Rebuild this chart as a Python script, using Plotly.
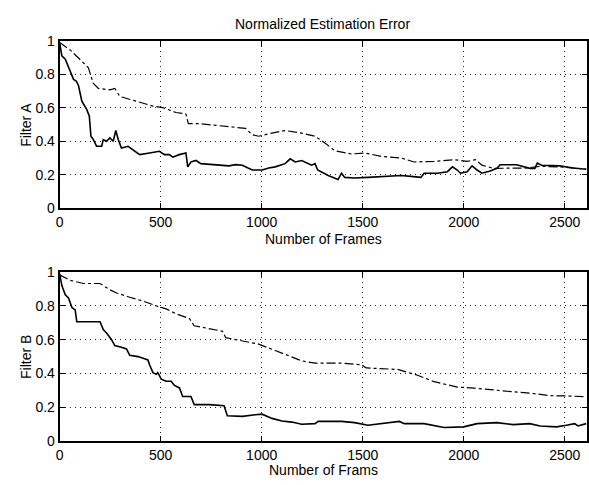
import plotly.graph_objects as go

# Filter A (top panel)
a_solid_x = [0, 11, 28, 44, 69, 82, 93, 110, 134, 147, 155, 167, 183, 208, 216, 232, 249, 265, 278, 290, 306, 339, 355, 396, 445, 494, 519, 543, 560, 592, 625, 634, 650, 675, 699, 773, 838, 871, 904, 953, 1002, 1035, 1067, 1116, 1141, 1166, 1198, 1247, 1264, 1277, 1329, 1378, 1395, 1411, 1460, 1526, 1608, 1690, 1739, 1788, 1804, 1870, 1919, 1944, 1968, 1984, 2017, 2041, 2066, 2090, 2131, 2164, 2180, 2262, 2327, 2352, 2364, 2385, 2475, 2541, 2606]
a_solid_y = [0.99, 0.91, 0.89, 0.84, 0.77, 0.76, 0.735, 0.64, 0.59, 0.55, 0.43, 0.41, 0.37, 0.37, 0.41, 0.40, 0.42, 0.40, 0.464, 0.41, 0.36, 0.37, 0.355, 0.32, 0.33, 0.34, 0.32, 0.32, 0.305, 0.32, 0.33, 0.247, 0.276, 0.285, 0.266, 0.26, 0.253, 0.26, 0.257, 0.228, 0.228, 0.24, 0.247, 0.266, 0.295, 0.276, 0.285, 0.257, 0.266, 0.228, 0.195, 0.171, 0.209, 0.184, 0.18, 0.184, 0.19, 0.195, 0.19, 0.184, 0.209, 0.209, 0.218, 0.247, 0.228, 0.209, 0.218, 0.253, 0.228, 0.209, 0.222, 0.238, 0.26, 0.26, 0.238, 0.238, 0.27, 0.257, 0.253, 0.24, 0.233]
a_dash_x = [0, 52, 101, 142, 167, 192, 249, 273, 298, 347, 396, 462, 511, 576, 625, 637, 691, 773, 838, 920, 953, 985, 1051, 1116, 1198, 1264, 1313, 1362, 1444, 1509, 1591, 1690, 1755, 1854, 1952, 2017, 2058, 2090, 2148, 2213, 2311, 2377, 2475, 2606]
a_dash_y = [0.99, 0.946, 0.889, 0.84, 0.745, 0.716, 0.707, 0.716, 0.668, 0.65, 0.63, 0.61, 0.601, 0.572, 0.563, 0.505, 0.505, 0.496, 0.486, 0.477, 0.439, 0.43, 0.449, 0.464, 0.449, 0.43, 0.39, 0.343, 0.324, 0.33, 0.31, 0.30, 0.276, 0.28, 0.29, 0.28, 0.29, 0.257, 0.238, 0.238, 0.24, 0.25, 0.247, 0.233]

# Filter B (bottom panel)
b_solid_x = [0, 11, 28, 44, 61, 77, 85, 200, 216, 232, 257, 273, 306, 331, 347, 388, 413, 437, 445, 462, 478, 486, 503, 527, 552, 568, 593, 609, 650, 666, 740, 814, 830, 904, 969, 1002, 1051, 1100, 1149, 1198, 1264, 1280, 1395, 1460, 1526, 1591, 1681, 1706, 1804, 1902, 2000, 2066, 2164, 2246, 2327, 2377, 2459, 2508, 2549, 2565, 2606]
b_solid_y = [0.99, 0.92, 0.865, 0.847, 0.79, 0.776, 0.706, 0.706, 0.66, 0.64, 0.60, 0.565, 0.555, 0.545, 0.508, 0.50, 0.49, 0.48, 0.452, 0.405, 0.395, 0.405, 0.367, 0.354, 0.354, 0.33, 0.315, 0.264, 0.264, 0.216, 0.216, 0.21, 0.15, 0.147, 0.156, 0.16, 0.135, 0.119, 0.113, 0.10, 0.104, 0.117, 0.117, 0.11, 0.094, 0.104, 0.117, 0.104, 0.104, 0.081, 0.085, 0.104, 0.11, 0.098, 0.104, 0.09, 0.085, 0.094, 0.104, 0.09, 0.104]
b_dash_x = [0, 52, 118, 200, 249, 282, 347, 413, 478, 527, 576, 642, 666, 724, 806, 822, 904, 985, 1067, 1149, 1198, 1264, 1395, 1493, 1518, 1673, 1771, 1853, 1968, 2050, 2148, 2246, 2344, 2426, 2524, 2606]
b_dash_y = [0.983, 0.951, 0.932, 0.932, 0.895, 0.876, 0.851, 0.828, 0.80, 0.782, 0.753, 0.725, 0.682, 0.668, 0.65, 0.612, 0.593, 0.574, 0.536, 0.499, 0.475, 0.461, 0.461, 0.452, 0.433, 0.424, 0.39, 0.352, 0.32, 0.314, 0.305, 0.292, 0.282, 0.269, 0.267, 0.263]

x_ticks = [0, 500, 1000, 1500, 2000, 2500]
y_ticks = [0, 0.2, 0.4, 0.6, 0.8, 1]

W, H = 589, 485
FONT = "Liberation Sans, Arial, sans-serif"

fig = go.Figure()
fig.add_trace(go.Scatter(x=a_solid_x, y=a_solid_y, mode="lines", line=dict(color="black", width=1.6), xaxis="x", yaxis="y", showlegend=False))
fig.add_trace(go.Scatter(x=a_dash_x, y=a_dash_y, mode="lines", line=dict(color="black", width=1.2, dash="dashdot"), xaxis="x", yaxis="y", showlegend=False))
fig.add_trace(go.Scatter(x=b_solid_x, y=b_solid_y, mode="lines", line=dict(color="black", width=1.6), xaxis="x2", yaxis="y2", showlegend=False))
fig.add_trace(go.Scatter(x=b_dash_x, y=b_dash_y, mode="lines", line=dict(color="black", width=1.2, dash="dashdot"), xaxis="x2", yaxis="y2", showlegend=False))

xdom = [56 / W, 587 / W]
top_dom = [1 - 207 / H, 1 - 34 / H]
bot_dom = [1 - 448 / H, 1 - 273 / H]

common = dict(showline=True, linecolor="black", linewidth=1.8, mirror="ticks",
              ticks="inside", ticklen=5, tickcolor="black", tickwidth=1.2,
              showgrid=True, gridcolor="#222", griddash="1px,4px", gridwidth=1,
              zeroline=False, tickfont=dict(family=FONT, size=14, color="black"))

fig.update_layout(
    width=W, height=H, margin=dict(l=0, r=0, t=0, b=0),
    paper_bgcolor="white", plot_bgcolor="white",
    xaxis=dict(domain=xdom, anchor="y", range=[0, 2610], tickvals=x_ticks, **common),
    yaxis=dict(domain=top_dom, anchor="x", range=[0, 1], tickvals=y_ticks, **common),
    xaxis2=dict(domain=xdom, anchor="y2", range=[0, 2610], tickvals=x_ticks, **common),
    yaxis2=dict(domain=bot_dom, anchor="x2", range=[0, 1], tickvals=y_ticks, **common),
)

ann_font = dict(family=FONT, size=14, color="black")
fig.add_annotation(text="Normalized Estimation Error", x=321 / W, y=1 - 17 / H, xref="paper", yref="paper",
                   showarrow=False, font=ann_font, xanchor="center", yanchor="middle")
fig.add_annotation(text="Number of Frames", x=322 / W, y=1 - 239 / H, xref="paper", yref="paper",
                   showarrow=False, font=ann_font, xanchor="center", yanchor="middle")
fig.add_annotation(text="Number of Frams", x=322 / W, y=1 - 478 / H, xref="paper", yref="paper",
                   showarrow=False, font=ann_font, xanchor="center", yanchor="middle")
fig.add_annotation(text="Filter A", x=22 / W, y=1 - 121 / H, xref="paper", yref="paper", textangle=-90,
                   showarrow=False, font=ann_font, xanchor="center", yanchor="middle")
fig.add_annotation(text="Filter B", x=22 / W, y=1 - 361 / H, xref="paper", yref="paper", textangle=-90,
                   showarrow=False, font=ann_font, xanchor="center", yanchor="middle")

fig.write_html("out.html")
